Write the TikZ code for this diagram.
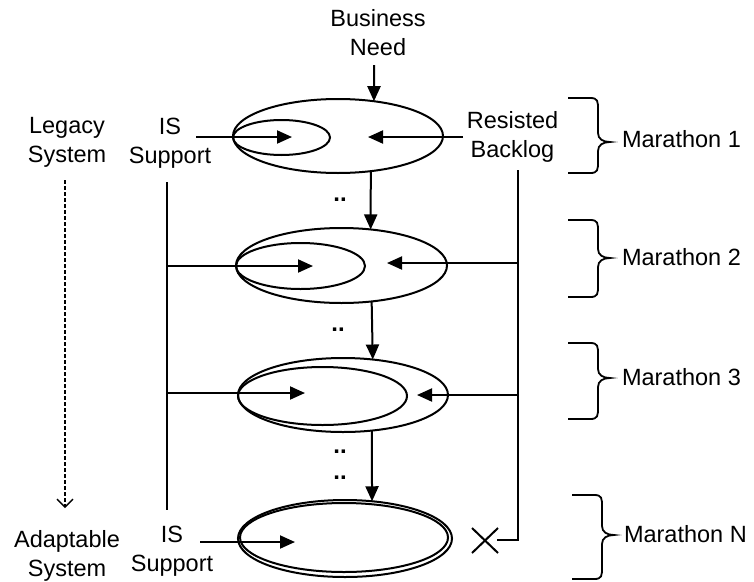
\documentclass[tikz,border=0pt]{standalone}
\usepackage{fontspec}
\setmainfont{Liberation Sans}
\usetikzlibrary{arrows.meta,shapes.geometric}
\newcommand\mybrace[4]{\draw[bracestyle] (#1,#2) -- ({#1+22},#2) .. controls ({#1+30},#2) and ({#1+30},{#2+3}) .. ({#1+30},{#2+12}) -- ({#1+30},{#3-9}) .. controls ({#1+30},{#3-3}) and ({#1+35},#3) .. ({#1+42},#3) .. controls ({#1+35},#3) and ({#1+30},{#3+3}) .. ({#1+30},{#3+9}) -- ({#1+30},{#4-12}) .. controls ({#1+30},{#4-3}) and ({#1+30},#4) .. ({#1+22},#4) -- (#1,#4);}
\begin{document}
\begin{tikzpicture}[x=1pt,y=-1pt, line width=2pt,
 font=\fontsize{23.5}{29}\selectfont,
 arr/.style={-{Triangle[length=15pt,width=13pt]}},
 ell/.style={draw, ellipse, inner sep=0pt, outer sep=0pt},
 lbl/.style={align=center, inner sep=0pt},
 mlbl/.style={anchor=base west, inner sep=0pt},
 dots/.style={font=\fontsize{24}{26}\selectfont\bfseries, inner sep=0pt, align=center},
 bracestyle/.style={line width=1.8pt},
 dasharrow/.style={line width=1.3pt, dash pattern=on 4pt off 2pt, -{Straight Barb[length=8pt,width=16pt]}}]
\useasboundingbox[fill=white] (0,0) rectangle (754,581);

% ellipses
\node[ell, minimum width=210pt, minimum height=74pt] (e1) at (338,136) {};
\node[ell, minimum width=97pt, minimum height=35pt] (i1) at (281.5,137.5) {};
\node[ell, minimum width=211pt, minimum height=75pt] (e2) at (341.5,265.5) {};
\node[ell, minimum width=129pt, minimum height=46pt] (i2) at (300.5,266) {};
\node[ell, minimum width=210pt, minimum height=74pt] (e3) at (343,395) {};
\node[ell, minimum width=169pt, minimum height=58pt] (i3) at (322.5,396) {};
\node[ell, minimum width=214pt, minimum height=77pt] (e4) at (345,538.5) {};
\node[ell, minimum width=208pt, minimum height=69pt] (i4) at (344,537.5) {};

% labels
\node[lbl] (bn) at (378,33) {Business\\Need};
\node[lbl] (is1) at (170,143) {IS\\Support};
\node[lbl] (rb) at (512.5,137) {Resisted\\Backlog};
\node[lbl] (is2) at (172,551) {IS\\Support};
\node[lbl] (ls) at (67,142) {Legacy\\System};
\node[lbl] (as) at (67,556) {Adaptable\\System};
\node[mlbl] (m1) at (621,147) {Marathon 1};
\node[mlbl] (m2) at (621,265) {Marathon 2};
\node[mlbl] (m3) at (621,385) {Marathon 3};
\node[mlbl] (mn) at (623,542) {Marathon N};

% dots
\node[dots] (d1) at (340,200) {..};
\node[dots] (d2) at (338,330) {..};
\node[dots] (d3) at (340,465) {..\\..};

% coordinates
\coordinate (bntop) at (374,65);
\coordinate (a1s) at (196,137);
\coordinate (a1e) at (292,137);
\coordinate (b1s) at (463,137);
\coordinate (b1e) at (368,137);
\coordinate (ltop) at (167,182);
\coordinate (lbot) at (167,510);
\coordinate (rtop) at (518,170);
\coordinate (rbot) at (518,540);
\coordinate (xend) at (497,540);
\coordinate (l2) at (167,266);
\coordinate (l2e) at (313,266);
\coordinate (r2) at (518,263);
\coordinate (r2e) at (387,263);
\coordinate (l3) at (167,393);
\coordinate (l3e) at (305,393);
\coordinate (r3) at (518,395);
\coordinate (r3e) at (417,395);
\coordinate (l4) at (200,542);
\coordinate (l4e) at (295,542);
\coordinate (dtop) at (65,180);
\coordinate (dbot) at (65,508);

% connectors
\draw[arr] (bntop) -- (e1.44);
\draw[arr] (a1s) -- (a1e);
\draw[arr] (b1s) -- (b1e);
\draw (ltop) -- (lbot);
\draw (rtop) -- (rbot) -- (xend);
\draw[arr] (l2) -- (l2e);
\draw[arr] (r2) -- (r2e);
\draw[arr] (l3) -- (l3e);
\draw[arr] (r3) -- (r3e);
\draw[arr] (l4) -- (l4e);
\draw[arr] (e1.-47) -- (e2.51);
\draw[arr] (e2.-50) -- (e3.50);
\draw[arr] (e3.-51) -- (e4.54);
\draw[dasharrow] (dtop) -- (dbot);

% cross
\draw (472,528) -- (498,553) (472,553) -- (498,528);

% braces
\mybrace{568}{98}{142}{173}
\mybrace{568}{220}{258}{297}
\mybrace{568}{343}{378}{419}
\mybrace{572}{495}{535}{579}
\end{tikzpicture}
\end{document}
